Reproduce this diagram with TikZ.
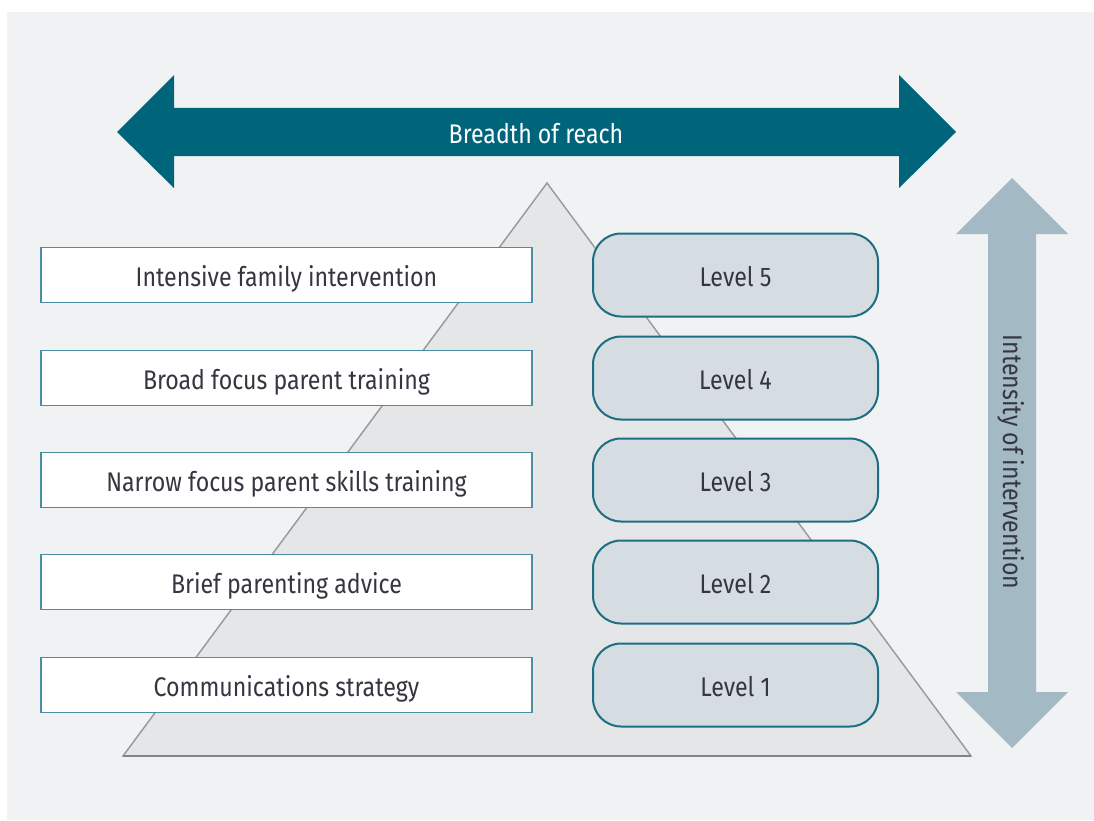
\documentclass[tikz,border=0pt]{standalone}
\usepackage{fontspec}
\setmainfont[FakeStretch=0.86]{Fira Sans}
\usetikzlibrary{positioning}
\definecolor{panel}{HTML}{F1F2F4}
\definecolor{teal}{HTML}{00657B}
\definecolor{paleblue}{HTML}{A3B9C4}
\definecolor{trifill}{HTML}{E5E6E8}
\definecolor{triline}{HTML}{9A9A9C}
\definecolor{levfill}{HTML}{D5DDE3}
\definecolor{levline}{HTML}{1C6F82}
\definecolor{boxline}{HTML}{4A90A2}
\definecolor{txt}{HTML}{363640}
\tikzset{
  lbl/.style={font=\fontsize{20.2}{22}\selectfont, text height=17.5pt, text depth=0pt},
  labelbox/.style={lbl, draw=boxline, line width=1.1pt, fill=white, minimum width=368.25pt, minimum height=41.25pt, inner sep=0pt, text=txt},
  levelbox/.style={lbl, draw=levline, line width=1.5pt, fill=levfill, rounded corners=21pt, minimum width=213.75pt, minimum height=62.25pt, inner sep=0pt, text=txt}
}
\begin{document}
\begin{tikzpicture}[x=0.75pt,y=-0.75pt]
\useasboundingbox (0,0) rectangle (1094,820);
\fill[white] (0,0) rectangle (1094,820);
\fill[panel] (7,12) rectangle (1094,820);
% top arrow
\fill[teal] (117,132) -- (174,75) -- (174,108) -- (899,108) -- (899,75) -- (956,132) -- (899,188) -- (899,156) -- (174,156) -- (174,188) -- cycle;
\node[lbl, text=white] (reach) at (536,132) {Breadth of reach};
% vertical arrow
\fill[paleblue] (1012,178) -- (1068,234) -- (1036,234) -- (1036,692) -- (1068,692) -- (1012,748) -- (956,692) -- (988,692) -- (988,234) -- (956,234) -- cycle;
\node[lbl, text=txt, rotate=-90] (intensity) at (1015,462) {Intensity of intervention};
% triangle
\filldraw[fill=trifill, draw=triline, line width=1.1pt, line join=miter] (547,183) -- (971,756) -- (123,756) -- cycle;
\draw[triline!85!black, line width=2.2pt] (123,756) -- (971,756);
% boxes
\node[labelbox] (b5) at (286.5,275) {Intensive family intervention};
\node[labelbox] (b4) at (286.5,378) {Broad focus parent training};
\node[labelbox] (b3) at (286.5,480) {Narrow focus parent skills training};
\node[labelbox] (b2) at (286.5,582) {Brief parenting advice};
\node[labelbox] (b1) at (286.5,685) {Communications strategy};
\node[levelbox] (l5) at (735.5,275) {Level 5};
\node[levelbox] (l4) at (735.5,378) {Level 4};
\node[levelbox] (l3) at (735.5,480) {Level 3};
\node[levelbox] (l2) at (735.5,582) {Level 2};
\node[levelbox] (l1) at (735.5,685) {Level 1};
\end{tikzpicture}
\end{document}
